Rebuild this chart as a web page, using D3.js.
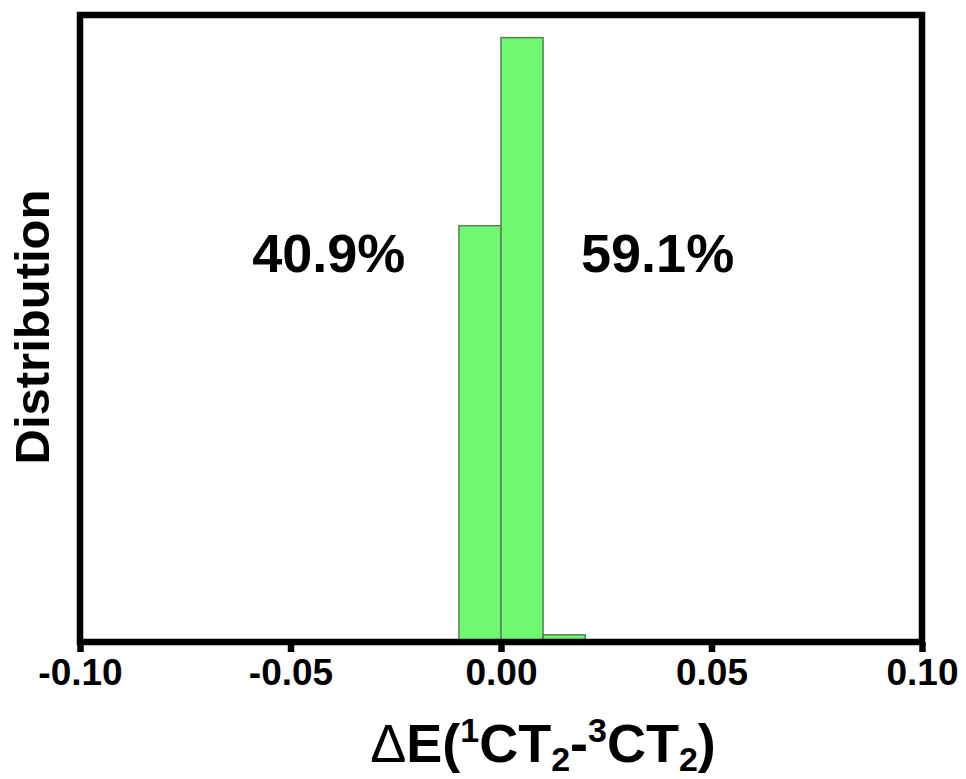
<!DOCTYPE html>
<html><head><meta charset="utf-8">
<script src="https://cdn.jsdelivr.net/npm/d3@7"></script>
<style>body{margin:0;background:#fff}svg{display:block}text{font-family:"Liberation Sans",Arial,sans-serif;font-weight:bold;fill:#000}</style>
</head><body>
<script>
const binStarts = [-0.01, 0.00, 0.01];
const binWidth = 0.01;
const fractions = [0.405, 0.588, 0.007];
const xTicks = [-0.10, -0.05, 0.00, 0.05, 0.10];
const percentLabels = [{text:"40.9%", x:-0.0409}, {text:"59.1%", x:0.0372}];
const yLabel = "Distribution";

const W = 966, H = 779;
const svg = d3.select("body").append("svg").attr("width", W).attr("height", H);
const x = d3.scaleLinear().domain([-0.10, 0.10]).range([80, 922]);
const y = d3.scaleLinear().domain([0, 0.61]).range([642, 15]);

svg.append("g").selectAll("rect").data(fractions).join("rect")
  .attr("x", (d,i)=>x(binStarts[i]))
  .attr("width", (d,i)=>x(binStarts[i]+binWidth)-x(binStarts[i]))
  .attr("y", d=>y(d))
  .attr("height", d=>y(0)-y(d))
  .attr("fill", "#70f870").attr("stroke", "#5a7f5a").attr("stroke-width", 1.5);

// frame
svg.append("rect").attr("x", 80).attr("y", 15).attr("width", 842).attr("height", 627)
  .attr("fill", "none").attr("stroke", "#000").attr("stroke-width", 6.5);

const ax = svg.append("g").attr("transform", "translate(0,642)")
  .call(d3.axisBottom(x).tickValues(xTicks).tickFormat(d3.format(".2f")).tickSize(10).tickPadding(7));
ax.select(".domain").remove();
ax.selectAll(".tick line").attr("stroke", "#000").attr("stroke-width", 6.5);
ax.selectAll(".tick text").style("font-size", "37px").style("font-family", "'Liberation Sans',Arial,sans-serif").style("font-weight","bold").attr("fill","#000")
  .text(d=>d3.format(".2f")(d).replace("−","-"));

svg.selectAll("text.pct").data(percentLabels).join("text").attr("class","pct")
  .attr("x", d=>x(d.x)).attr("y", 272).attr("text-anchor","middle").style("font-size","54px").text(d=>d.text);

svg.append("text").attr("transform","translate(49,327) rotate(-90)").attr("text-anchor","middle")
  .style("font-size","49px").text(yLabel);

const t = svg.append("text").attr("x", 543).attr("y", 762).attr("text-anchor","middle").style("font-size","54px");
t.append("tspan").style("font-weight","normal").text("\u0394");
t.append("tspan").text("E(");
t.append("tspan").attr("dy",-20).style("font-size","34px").text("1");
t.append("tspan").attr("dy",20).text("CT");
t.append("tspan").attr("dy",9).style("font-size","34px").text("2");
t.append("tspan").attr("dy",-9).text("-");
t.append("tspan").attr("dy",-20).style("font-size","34px").text("3");
t.append("tspan").attr("dy",20).text("CT");
t.append("tspan").attr("dy",9).style("font-size","34px").text("2");
t.append("tspan").attr("dy",-9).text(")");
</script>
</body></html>
